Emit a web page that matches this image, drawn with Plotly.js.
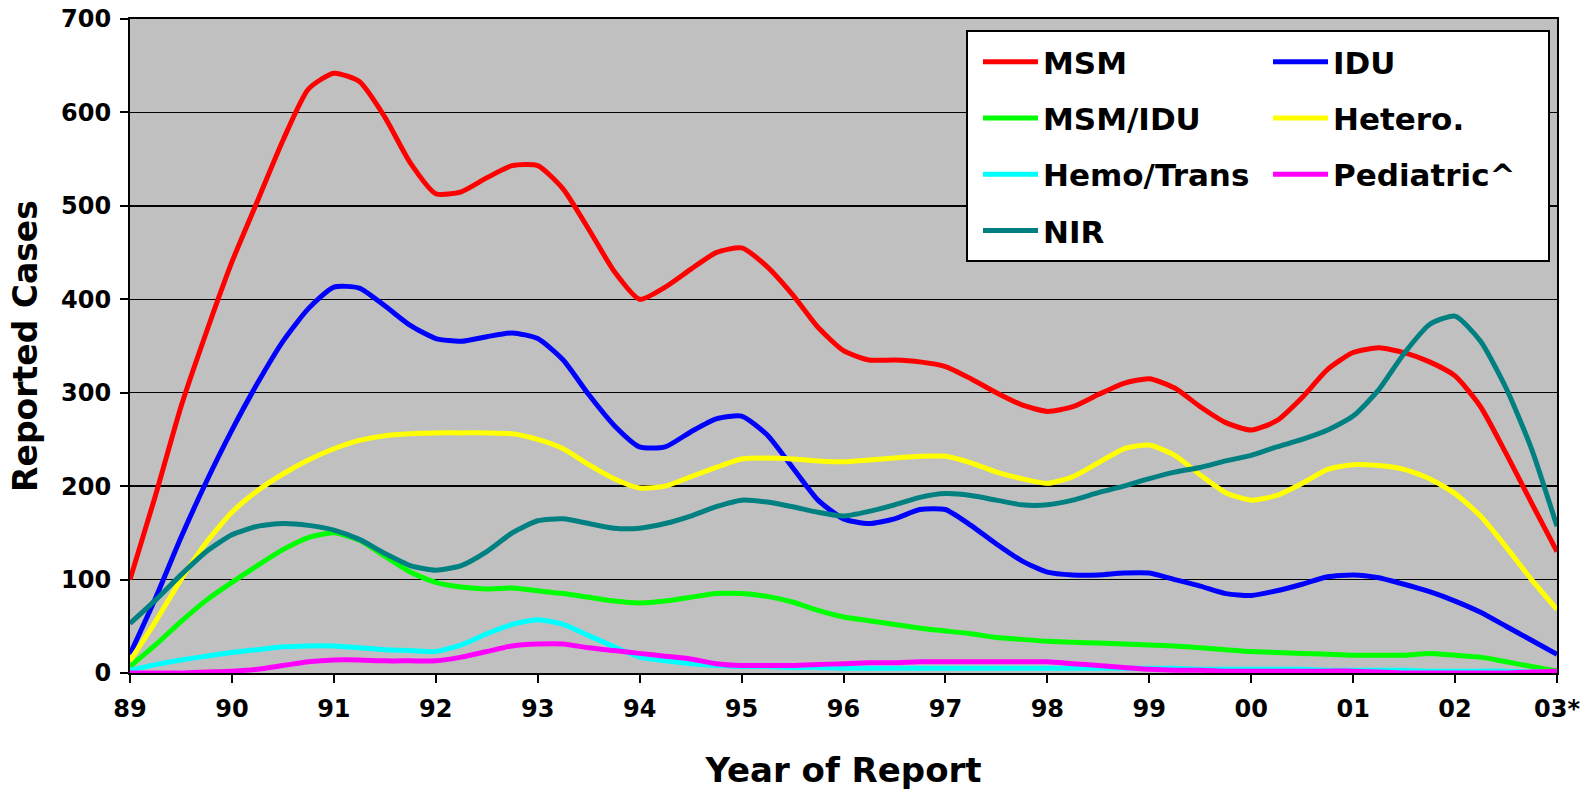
<!DOCTYPE html>
<html>
<head>
<meta charset="utf-8">
<script src="https://cdn.plot.ly/plotly-3.0.1.min.js"></script>
<style>html,body{margin:0;padding:0;background:#fff;}#chart{width:1593px;height:790px;}</style>
</head>
<body>
<div id="chart"></div>
<script>
// Quarterly report periods, 1989 .. 2003
var quarters = [];
for (var q = 0; q <= 56; q++) { quarters.push(1989 + q / 4); }

var tickYears = [1989,1990,1991,1992,1993,1994,1995,1996,1997,1998,1999,2000,2001,2002,2003];
var tickLabels = ['89','90','91','92','93','94','95','96','97','98','99','00','01','02','03*'];

var msm = [100,190,285,365,440,505,570,625,642,633,595,546,513,515,530,543,543,518,475,430,400,413,432,450,455,435,405,370,345,335,335,333,328,315,300,287,280,285,298,310,315,305,285,268,260,270,295,325,343,348,343,333,318,285,235,182,130];
var idu = [20,80,145,205,260,310,355,390,413,412,393,372,358,355,360,364,358,335,298,265,242,242,258,272,275,255,220,185,165,160,165,175,175,158,138,120,108,105,105,107,107,100,93,85,83,88,95,103,105,102,95,87,77,65,50,35,20];
var msmIdu = [7,30,55,78,97,115,132,145,150,142,125,108,97,92,90,91,88,85,81,77,75,77,81,85,85,82,76,67,60,56,52,48,45,42,38,36,34,33,32,31,30,29,27,25,23,22,21,20,19,19,19,21,19,17,12,7,2];
var hetero = [13,55,100,140,172,195,213,228,240,249,254,256,257,257,257,256,250,240,223,208,198,200,210,220,229,230,229,227,226,228,230,232,232,225,215,208,203,210,225,240,244,233,212,193,185,190,203,218,223,222,218,208,192,168,135,100,68];
var hemo = [3,9,14,18,22,25,28,29,29,27,25,24,23,30,42,52,57,52,40,28,17,13,10,8,7,7,6,6,5,5,5,5,5,5,5,5,5,5,5,5,5,5,4,4,4,4,4,3,3,3,3,2,2,2,2,1,1];
var pediatric = [0,0,0,1,2,4,8,12,14,14,13,13,13,17,23,29,31,31,27,24,21,18,15,10,8,8,8,9,10,11,11,12,12,12,12,12,12,10,8,6,4,3,3,2,2,2,2,2,2,1,0,0,0,0,0,1,2];
var nir = [53,78,105,130,148,157,160,158,153,143,128,115,110,115,130,150,163,165,160,155,155,160,168,178,185,183,178,172,168,173,180,188,192,190,185,180,180,185,193,200,208,215,220,227,233,242,250,260,275,303,342,373,382,355,305,240,157];

var seriesNames = ['MSM','IDU','MSM/IDU','Hetero.','Hemo/Trans','Pediatric^','NIR'];
var seriesValues = [msm, idu, msmIdu, hetero, hemo, pediatric, nir];
var seriesColors = ['#FF0000','#0000FF','#00FF00','#FFFF00','#00FFFF','#FF00FF','#008080'];
var seriesLegend = ['legend','legend2','legend','legend2','legend','legend2','legend'];

var traces = seriesNames.map(function(n, i) {
  return {
    type: 'scatter', mode: 'lines', name: n,
    x: quarters, y: seriesValues[i],
    line: {color: seriesColors[i], width: 5, shape: 'spline', smoothing: 0.6},
    legend: seriesLegend[i], legendgroup: 'g' + i,
    hoverinfo: 'x+y+name'
  };
});

var FONT = 'DejaVu Sans, Verdana, sans-serif';
var pxL = 130, pxR = 1557, pxT = 19, pxB = 673;
var W = pxR - pxL, H = pxB - pxT;
function px2x(p) { return (p - pxL) / W; }
function px2y(p) { return (pxB - p) / H; }

var legendCommon = {
  bgcolor: 'rgba(0,0,0,0)', borderwidth: 0,
  font: {family: FONT, size: 31, color: '#000', weight: 'bold'},
  orientation: 'v', yanchor: 'top', xanchor: 'left',
  tracegroupgap: 13, itemwidth: 55, traceorder: 'grouped'
};

var layout = {
  width: 1593, height: 790,
  paper_bgcolor: '#FFFFFF', plot_bgcolor: '#C0C0C0',
  margin: {l: pxL, r: 1593 - pxR, t: pxT, b: 790 - pxB, autoexpand: false},
  font: {family: FONT, color: '#000'},
  xaxis: {
    range: [1989, 2003], tickvals: tickYears, ticktext: tickLabels,
    showgrid: false, zeroline: false,
    showline: true, mirror: true, linecolor: '#000', linewidth: 2,
    ticks: 'outside', ticklen: 8, tickwidth: 2, tickcolor: '#000',
    tickfont: {family: FONT, size: 24, color: '#000', weight: 'bold'},
    ticklabelstandoff: 5,
    title: {text: 'Year of Report', font: {family: FONT, size: 34, color: '#000', weight: 'bold'}, standoff: 36},
    automargin: false
  },
  yaxis: {
    range: [0, 700], dtick: 100, tick0: 0,
    showgrid: true, gridcolor: '#000', gridwidth: 1.5, zeroline: false,
    showline: true, mirror: true, linecolor: '#000', linewidth: 2,
    ticks: 'outside', ticklen: 8, tickwidth: 2, tickcolor: '#000',
    tickfont: {family: FONT, size: 24, color: '#000', weight: 'bold'},
    ticklabelstandoff: 4,
    title: {text: 'Reported Cases', font: {family: FONT, size: 33, color: '#000', weight: 'bold'}, standoff: 14},
    automargin: false
  },
  legend: Object.assign({}, legendCommon, {x: px2x(978), y: px2y(35)}),
  legend2: Object.assign({}, legendCommon, {x: px2x(1268), y: px2y(35)}),
  shapes: [{
    type: 'rect', xref: 'paper', yref: 'paper', layer: 'above',
    x0: px2x(967), x1: px2x(1549), y0: px2y(261), y1: px2y(31),
    fillcolor: '#FFFFFF', line: {color: '#000', width: 2}
  }],
  showlegend: true
};

Plotly.newPlot('chart', traces, layout, {displayModeBar: false, staticPlot: true});
</script>
</body>
</html>
